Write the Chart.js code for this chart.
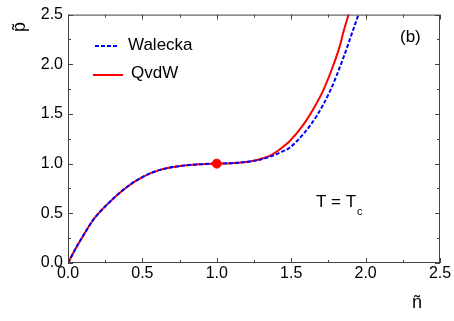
<!DOCTYPE html>
<html>
<head>
<meta charset="utf-8">
<script src="https://cdn.jsdelivr.net/npm/chart.js@4/dist/chart.umd.min.js"></script>
<style>
html,body{margin:0;padding:0;background:#fff;}
#wrap{width:454px;height:321px;}
</style>
</head>
<body>
<div id="wrap"><canvas id="c" width="454" height="321"></canvas></div>
<script>
// ---- data ----
const walN = [0, 0.03, 0.058, 0.1, 0.17, 0.25, 0.394, 0.5, 0.618, 0.775, 0.9, 1.0, 1.1, 1.223, 1.29, 1.358, 1.43, 1.492, 1.581, 1.671, 1.761, 1.85, 1.917, 1.951, 1.99];
const walP = [0, 0.085, 0.163, 0.27, 0.435, 0.57, 0.763, 0.865, 0.937, 0.98, 0.995, 1.0, 1.005, 1.022, 1.04, 1.07, 1.115, 1.163, 1.297, 1.48, 1.73, 2.063, 2.35, 2.497, 2.68];
const qvdwN = [0, 0.03, 0.058, 0.1, 0.17, 0.25, 0.394, 0.5, 0.618, 0.775, 0.9, 1.0, 1.1, 1.223, 1.29, 1.358, 1.42, 1.492, 1.581, 1.649, 1.716, 1.783, 1.828, 1.85, 1.884, 1.92];
const qvdwP = [0, 0.085, 0.163, 0.27, 0.435, 0.57, 0.763, 0.865, 0.937, 0.98, 0.995, 1.0, 1.005, 1.022, 1.045, 1.08, 1.14, 1.23, 1.39, 1.55, 1.74, 1.99, 2.19, 2.32, 2.497, 2.72];
const critN = [1.0];
const critP = [1.0];
const xTicks = [0, 0.5, 1.0, 1.5, 2.0, 2.5];
const yTicks = [0, 0.5, 1.0, 1.5, 2.0, 2.5];
const seriesNames = ["Walecka", "QvdW"];

const FONT = "'Liberation Sans', Arial, Helvetica, sans-serif";
const pts = (xs, ys) => xs.map((x, i) => ({x: x, y: ys[i]}));

const decor = {
  id: 'decor',
  afterDraw(chart) {
    const ctx = chart.ctx, a = chart.chartArea;
    const sx = chart.scales.x, sy = chart.scales.y;
    ctx.save();
    ctx.strokeStyle = '#444';
    ctx.lineWidth = 1;
    ctx.strokeRect(a.left + 0.5, a.top + 0.5, a.right - a.left - 1, a.bottom - a.top - 1);
    ctx.beginPath();
    for (let v = 0; v <= 2.5001; v += 0.25) {
      const major = Math.abs(v / 0.5 - Math.round(v / 0.5)) < 1e-6;
      const len = major ? 5 : 3;
      const px = Math.round(sx.getPixelForValue(v)) + 0.5;
      ctx.moveTo(px, a.bottom); ctx.lineTo(px, a.bottom - len);
      ctx.moveTo(px, a.top); ctx.lineTo(px, a.top + len);
      const py = Math.round(sy.getPixelForValue(v)) + 0.5;
      ctx.moveTo(a.left, py); ctx.lineTo(a.left + len, py);
      ctx.moveTo(a.right, py); ctx.lineTo(a.right - len, py);
    }
    ctx.stroke();

    // legend
    const ds = chart.data.datasets;
    ctx.font = '17px ' + FONT;
    ctx.textBaseline = 'middle';
    ctx.textAlign = 'left';
    ctx.fillStyle = '#000';
    ctx.lineWidth = 2;
    ctx.strokeStyle = ds[0].borderColor;
    ctx.setLineDash(ds[0].borderDash);
    ctx.beginPath(); ctx.moveTo(95, 46); ctx.lineTo(118, 46); ctx.stroke();
    ctx.setLineDash([]);
    ctx.fillText(ds[0].label, 128, 45);
    ctx.strokeStyle = ds[1].borderColor;
    ctx.beginPath(); ctx.moveTo(93, 75); ctx.lineTo(123, 75); ctx.stroke();
    ctx.fillText(ds[1].label, 131, 73);

    // annotations
    ctx.fillText('(b)', 400, 37);
    ctx.fillText('T = T', 316, 202);
    ctx.font = '11px ' + FONT;
    ctx.fillText('c', 357, 212);

    // axis titles
    ctx.font = '18px ' + FONT;
    ctx.textAlign = 'center';
    ctx.fillText('n\u0303', 417, 303);
    ctx.translate(20, 27);
    ctx.rotate(-Math.PI / 2);
    ctx.fillText('p\u0303', 0, 0);
    ctx.restore();
  }
};

new Chart(document.getElementById('c'), {
  type: 'line',
  data: {
    datasets: [
      {label: seriesNames[0], data: pts(walN, walP), borderColor: '#0000ff', borderWidth: 2,
       borderDash: [4, 2], pointRadius: 0, cubicInterpolationMode: 'monotone', fill: false},
      {label: seriesNames[1], data: pts(qvdwN, qvdwP), borderColor: '#ff0000', borderWidth: 2,
       borderDash: [], pointRadius: 0, cubicInterpolationMode: 'monotone', fill: false},
      {label: 'critical', data: pts(critN, critP), type: 'scatter', showLine: false,
       pointRadius: 4.5, pointBackgroundColor: '#ff0000', pointBorderColor: '#ff0000', order: -1}
    ]
  },
  options: {
    responsive: false,
    animation: false,
    devicePixelRatio: 1,
    layout: {padding: {top: 13, right: 14, left: 0, bottom: 0}},
    plugins: {legend: {display: false}, tooltip: {enabled: false}},
    scales: {
      x: {
        type: 'linear', min: 0, max: 2.5,
        afterBuildTicks: s => { s.ticks = xTicks.map(v => ({value: v})); },
        afterFit: s => { s.height = 58; },
        grid: {display: false, drawTicks: false},
        border: {display: false},
        ticks: {padding: 1, color: '#000', font: {family: FONT, size: 16},
                callback: v => Number(v).toFixed(1), maxRotation: 0, autoSkip: false}
      },
      y: {
        type: 'linear', min: 0, max: 2.5,
        afterBuildTicks: s => { s.ticks = yTicks.map(v => ({value: v})); },
        afterFit: s => { s.width = 68; },
        grid: {display: false, drawTicks: false},
        border: {display: false},
        ticks: {padding: 5, color: '#000', font: {family: FONT, size: 16},
                callback: v => Number(v).toFixed(1), autoSkip: false}
      }
    }
  },
  plugins: [decor]
});
</script>
</body>
</html>
